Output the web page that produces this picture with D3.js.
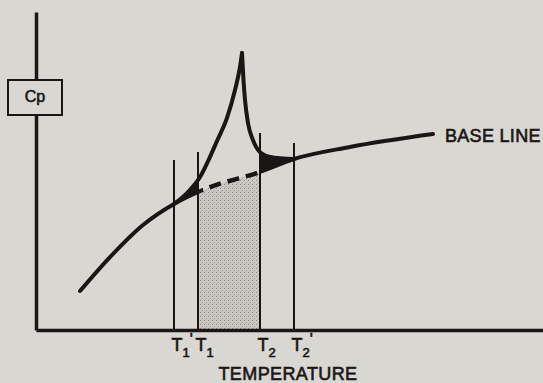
<!DOCTYPE html>
<html>
<head>
<meta charset="utf-8">
<script src="https://cdn.jsdelivr.net/npm/d3@7"></script>
<style>
  html, body { margin: 0; padding: 0; background: #d8d7d1; }
  svg { display: block; }
  text { font-family: "Liberation Sans", Arial, sans-serif; fill: #1b1616; stroke: #1b1616; stroke-width: 0.6px; }
</style>
</head>
<body>
<svg id="chart" width="543" height="383"></svg>
<script>
// ---- data (temperature units, Cp units) ----
const baseline = [[8.8,13],[14.8,24.3],[21.4,35],[27.6,42],[33.4,46.7],[44.8,52.7],[51.6,57],[62.8,61],[79.4,65.3]];
const peakRise = [[27.6,42],[30.4,46],[32.8,51],[34.8,57.7],[36.2,63],[38.2,70.7],[39.8,80],[40.8,87.7],[41.2,92.3]];
const peakFall = [[41.2,92.3],[41.5,83.3],[41.8,76.7],[42.4,69],[43.4,63.3],[44.8,59.3],[46.8,57.7],[49.4,57.2],[51.6,57]];
const markerX = [27.6, 32.4, 44.8, 51.6];
const markerTop = [56.7, 59.3, 65.7, 62.3];
const markerSub = ["1", "1", "2", "2"];
const markerPrime = [true, false, false, true];
const xLabel = "TEMPERATURE";
const yLabel = "Cp";
const baseLabel = "BASE LINE";

const W = 543, H = 383;
const ink = "#1b1616", bg = "#d8d7d1";
const svg = d3.select("#chart");
svg.append("rect").attr("width", W).attr("height", H).attr("fill", bg);

const x = d3.scaleLinear().domain([0, 101.4]).range([36, 543]);
const y = d3.scaleLinear().domain([0, 106]).range([330, 12]);

const defs = svg.append("defs");
// stipple pattern
const pat = defs.append("pattern").attr("id", "stipple").attr("patternUnits", "userSpaceOnUse")
  .attr("width", 4).attr("height", 4);
pat.append("rect").attr("width", 4).attr("height", 4).attr("fill", "#cac9c4");
pat.append("rect").attr("x", 0).attr("y", 0).attr("width", 1).attr("height", 1).attr("fill", "#8e8d89");
pat.append("rect").attr("x", 2).attr("y", 2).attr("width", 1).attr("height", 1).attr("fill", "#a09f9b");
pat.append("rect").attr("x", 1).attr("y", 3).attr("width", 1).attr("height", 1).attr("fill", "#b4b3ae");

// clip paths
function clipRange(id, ranges) {
  const c = defs.append("clipPath").attr("id", id);
  ranges.forEach(([a, b]) => c.append("rect").attr("x", x(a)).attr("y", 0).attr("width", x(b) - x(a)).attr("height", H));
}
clipRange("wedges", [[markerX[0], markerX[1]], [markerX[2], markerX[3]]]);
clipRange("mid", [[markerX[1] + 1, markerX[2]]]);
clipRange("outer", [[0, markerX[1] + 1], [markerX[2], 200]]);
clipRange("midStip", [[markerX[1], markerX[2]]]);

const line = d3.line().x(d => x(d[0])).y(d => y(d[1])).curve(d3.curveMonotoneX);
const areaGen = d3.area().x(d => x(d[0])).y0(y(0)).y1(d => y(d[1])).curve(d3.curveMonotoneX);

// black wedges: area under peak curve, minus area under baseline
const wedgeG = svg.append("g").attr("clip-path", "url(#wedges)");
wedgeG.append("path").attr("d", areaGen(peakRise)).attr("fill", ink);
wedgeG.append("path").attr("d", areaGen(peakFall)).attr("fill", ink);
wedgeG.append("path").attr("d", areaGen(baseline)).attr("fill", bg);

// stippled region between T1 and T2 under baseline
svg.append("path").attr("d", areaGen(baseline))
  .attr("fill", "url(#stipple)")
  .attr("clip-path", "url(#midStip)");

// marker vertical lines
svg.append("g").selectAll("line").data(markerX).join("line")
  .attr("x1", d => x(d)).attr("x2", d => x(d))
  .attr("y1", y(0)).attr("y2", (d, i) => y(markerTop[i]))
  .attr("stroke", ink).attr("stroke-width", 2);

// baseline solid and dashed
svg.append("path").attr("d", line(baseline)).attr("fill", "none").attr("stroke", ink)
  .attr("stroke-width", 4).attr("stroke-linecap", "round").attr("clip-path", "url(#outer)");
svg.append("path").attr("d", line(baseline)).attr("fill", "none").attr("stroke", ink)
  .attr("stroke-width", 4.5).attr("stroke-dasharray", "12 7").attr("stroke-dashoffset", 3)
  .attr("clip-path", "url(#mid)");

// peak curve
[peakRise, peakFall].forEach(p => {
  svg.append("path").attr("d", line(p)).attr("fill", "none").attr("stroke", ink)
    .attr("stroke-width", 4).attr("stroke-linejoin", "miter").attr("stroke-linecap", "round");
});

// axes
const yAxis = svg.append("g").attr("transform", `translate(${x(0)},0)`)
  .call(d3.axisLeft(y).tickValues([]).tickSizeOuter(0));
yAxis.select(".domain").attr("stroke", ink).attr("stroke-width", 3.5);

const xAxis = svg.append("g").attr("transform", `translate(0,${y(0)})`)
  .call(d3.axisBottom(x).tickValues(markerX).tickSize(0).tickSizeOuter(0).tickFormat(""));
xAxis.select(".domain").attr("stroke", ink).attr("stroke-width", 3.5);
xAxis.selectAll(".tick text").each(function(d, i) {
  const t = d3.select(this).attr("text-anchor", "start").attr("x", -3).attr("y", 21).attr("dy", null)
    .style("font-size", "18px").attr("fill", ink);
  t.text(null);
  t.append("tspan").text("T");
  t.append("tspan").attr("dy", 6).attr("dx", 0).style("font-size", "13px").text(markerSub[i]);
  if (markerPrime[i]) t.append("tspan").attr("dy", -12).attr("dx", 0).style("font-size", "16px").text("'");
});

// Cp box on y axis
const boxG = svg.append("g");
boxG.append("rect").attr("x", 8).attr("y", 80).attr("width", 54).attr("height", 35)
  .attr("fill", bg).attr("stroke", ink).attr("stroke-width", 2);
boxG.append("text").attr("x", 35).attr("y", 102).attr("text-anchor", "middle")
  .style("font-size", "16px").text(yLabel);

// labels
svg.append("text").attr("x", 445).attr("y", 142).style("font-size", "18px")
  .style("letter-spacing", "0.3px").text(baseLabel);
svg.append("text").attr("x", 288).attr("y", 380).attr("text-anchor", "middle")
  .style("font-size", "18px").style("letter-spacing", "0.4px").text(xLabel);
</script>
</body>
</html>
